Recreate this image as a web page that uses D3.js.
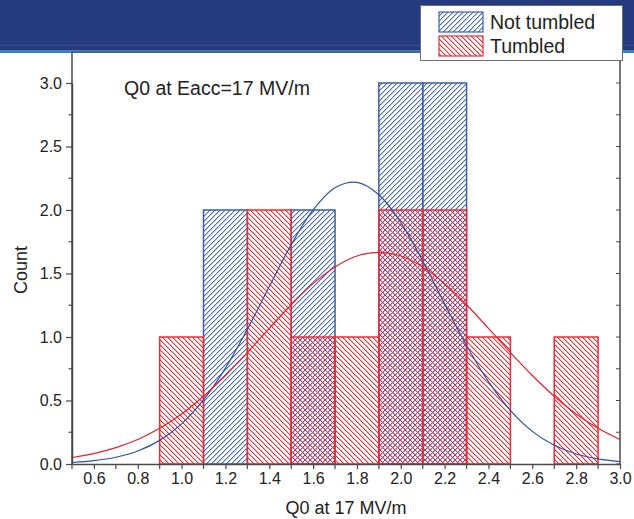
<!DOCTYPE html>
<html>
<head>
<meta charset="utf-8">
<script src="https://cdn.jsdelivr.net/npm/d3@7"></script>
<style>
  html, body { margin: 0; padding: 0; background: #fff; }
  svg { display: block; }
  text { font-family: "Liberation Sans", Arial, sans-serif; fill: #222; }
</style>
</head>
<body>
<div id="chart"></div>
<script>
// ---- data ----
const binStarts = [0.9, 1.1, 1.3, 1.5, 1.7, 1.9, 2.1, 2.3, 2.5, 2.7];
const binWidth = 0.2;
const notTumbled = [0, 2, 0, 2, 0, 3, 3, 0, 0, 0];
const tumbled    = [1, 0, 2, 1, 1, 2, 2, 1, 0, 1];

const fitX = [0.5,0.6,0.7,0.8,0.9,1.0,1.1,1.2,1.3,1.4,1.5,1.6,1.7,1.8,1.9,2.0,2.1,2.2,2.3,2.4,2.5,2.6,2.7,2.8,2.9,3.0];
const fitNotTumbled = [0.012,0.026,0.053,0.102,0.186,0.316,0.504,0.755,1.061,1.397,1.727,2.001,2.175,2.217,2.120,1.901,1.599,1.261,0.933,0.648,0.422,0.257,0.147,0.079,0.040,0.019];
const fitTumbled    = [0.051,0.082,0.129,0.193,0.281,0.394,0.534,0.697,0.878,1.068,1.254,1.420,1.552,1.638,1.667,1.638,1.552,1.420,1.254,1.068,0.878,0.697,0.534,0.394,0.281,0.193];

const xTickValues = [0.6,0.8,1.0,1.2,1.4,1.6,1.8,2.0,2.2,2.4,2.6,2.8,3.0];
const yTickValues = [0.0,0.5,1.0,1.5,2.0,2.5,3.0];
const seriesNames = ["Not tumbled", "Tumbled"];
const xTitle = "Q0 at 17 MV/m";
const yTitle = "Count";
const annotation = "Q0 at Eacc=17 MV/m";

// ---- drawing ----
const W = 634, H = 519;
const blue = "#3d5dab", blueHatch = "#4266c0";
const red = "#ef2b36", redHatch = "#f2282f";
const axisCol = "#4a4a4a";

const svg = d3.select("#chart").append("svg").attr("width", W).attr("height", H);

const x = d3.scaleLinear().domain([0.5, 3.0]).range([72, 620]);
const y = d3.scaleLinear().domain([0, 3.0]).range([464, 83]);
const yTop = y(3.244);

// pixel-staircase hatch patterns
const defs = svg.append("defs");
function hatch(id, color, forward) {
  const n = 5;
  const p = defs.append("pattern").attr("id", id)
    .attr("patternUnits", "userSpaceOnUse")
    .attr("width", n).attr("height", n);
  for (let i = 0; i < n; i++) {
    const px = forward ? (n - 1 - i) : i;
    p.append("rect").attr("x", px).attr("y", i).attr("width", 1).attr("height", 1)
      .attr("fill", color).attr("shape-rendering", "crispEdges");
    p.append("rect").attr("x", (px + 1) % n).attr("y", i).attr("width", 1).attr("height", 1)
      .attr("fill", color).attr("opacity", 0.35).attr("shape-rendering", "crispEdges");
  }
}
hatch("hBlue", blueHatch, true);
hatch("hRed", redHatch, false);

// header band
svg.append("rect").attr("x", 0).attr("y", 0).attr("width", W).attr("height", 51).attr("fill", "#263a80");
svg.append("rect").attr("x", 0).attr("y", 45).attr("width", W).attr("height", 1).attr("fill", "#3a4e94");
svg.append("rect").attr("x", 0).attr("y", 50).attr("width", W).attr("height", 3).attr("fill", "#3d80c8");

// bars
const g = svg.append("g");
function bars(vals, fill, stroke) {
  g.append("g").selectAll("rect")
    .data(binStarts.map((b, i) => ({ b, v: vals[i] })).filter(d => d.v > 0))
    .join("rect")
    .attr("x", d => x(d.b))
    .attr("y", d => y(d.v))
    .attr("width", d => x(d.b + binWidth) - x(d.b))
    .attr("height", d => y(0) - y(d.v))
    .attr("fill", fill)
    .attr("stroke", stroke)
    .attr("stroke-width", 1.5);
}
bars(notTumbled, "url(#hBlue)", blue);
bars(tumbled, "url(#hRed)", red);

// fit curves
const line = d3.line().x(d => x(d[0])).y(d => y(d[1])).curve(d3.curveCatmullRom);
svg.append("path").datum(fitX.map((v, i) => [v, fitNotTumbled[i]]))
  .attr("d", line).attr("fill", "none").attr("stroke", "#2f4fa2").attr("stroke-width", 1.2);
svg.append("path").datum(fitX.map((v, i) => [v, fitTumbled[i]]))
  .attr("d", line).attr("fill", "none").attr("stroke", "#ea1f2b").attr("stroke-width", 1.2);

// frame
svg.append("line").attr("x1", 620).attr("x2", 620).attr("y1", yTop).attr("y2", y(0)).attr("stroke", axisCol).attr("stroke-width", 1.5);
svg.append("line").attr("x1", 72).attr("x2", 620).attr("y1", yTop).attr("y2", yTop).attr("stroke", axisCol).attr("stroke-width", 1);

// right inward ticks
svg.append("g").selectAll("line").data(d3.range(0, 3.01, 0.25)).join("line")
  .attr("x1", 620).attr("x2", 616).attr("y1", d => y(d)).attr("y2", d => y(d))
  .attr("stroke", axisCol).attr("stroke-width", 1);

// bottom axis
const xAxis = svg.append("g").attr("transform", `translate(0,${y(0)})`)
  .call(d3.axisBottom(x).tickValues(xTickValues).tickFormat(d3.format(".1f")).tickSize(5).tickSizeOuter(0));
svg.append("g").attr("transform", `translate(0,${y(0)})`).selectAll("line")
  .data(d3.range(0.5, 3.0, 0.2)).join("line")
  .attr("x1", d => x(d)).attr("x2", d => x(d)).attr("y1", 0).attr("y2", 5)
  .attr("stroke", axisCol).attr("stroke-width", 1.2);
xAxis.select(".domain").attr("stroke", axisCol).attr("stroke-width", 1.5);
xAxis.selectAll(".tick line").attr("stroke", axisCol).attr("stroke-width", 1.2);
xAxis.selectAll(".tick text").attr("font-size", 16).attr("y", 9).attr("dy", "0.71em")
  .style("font-family", "'Liberation Sans', Arial, sans-serif").attr("fill", "#222");

// left axis
const yAxis = svg.append("g").attr("transform", `translate(72,0)`)
  .call(d3.axisLeft(y).tickValues(yTickValues).tickFormat(d3.format(".1f")).tickSize(6).tickSizeOuter(0));
svg.append("line").attr("x1", 72).attr("x2", 72).attr("y1", yTop).attr("y2", y(0)).attr("stroke", axisCol).attr("stroke-width", 1.5);
svg.append("g").selectAll("line").data(d3.range(0.25, 3.2, 0.5)).join("line")
  .attr("x1", 72).attr("x2", 68.5).attr("y1", d => y(d)).attr("y2", d => y(d))
  .attr("stroke", axisCol).attr("stroke-width", 1.2);
yAxis.select(".domain").attr("stroke", axisCol).attr("stroke-width", 1.5);
yAxis.selectAll(".tick line").attr("stroke", axisCol).attr("stroke-width", 1.2);
yAxis.selectAll(".tick text").attr("font-size", 16).attr("x", -10)
  .style("font-family", "'Liberation Sans', Arial, sans-serif").attr("fill", "#222");

// titles
svg.append("text").attr("x", 346).attr("y", 514).attr("text-anchor", "middle")
  .attr("font-size", 18).text(xTitle);
svg.append("text").attr("transform", "translate(27,270) rotate(-90)").attr("text-anchor", "middle")
  .attr("font-size", 18).text(yTitle);
svg.append("text").attr("x", 124).attr("y", 95).attr("font-size", 19.5).text(annotation);

// legend
const lg = svg.append("g");
lg.append("rect").attr("x", 420.5).attr("y", 5.5).attr("width", 202).attr("height", 55)
  .attr("fill", "#fff").attr("stroke", "#6e6e6e").attr("stroke-width", 1);
const legendItems = [
  { name: seriesNames[0], fill: "url(#hBlue)", stroke: blue, y: 12 },
  { name: seriesNames[1], fill: "url(#hRed)", stroke: red, y: 36 }
];
legendItems.forEach(d => {
  lg.append("rect").attr("x", 439).attr("y", d.y).attr("width", 44).attr("height", 20)
    .attr("fill", d.fill).attr("stroke", d.stroke).attr("stroke-width", 1.2);
  lg.append("text").attr("x", 490).attr("y", d.y + 16.5).attr("font-size", 19.5).text(d.name);
});
</script>
</body>
</html>
